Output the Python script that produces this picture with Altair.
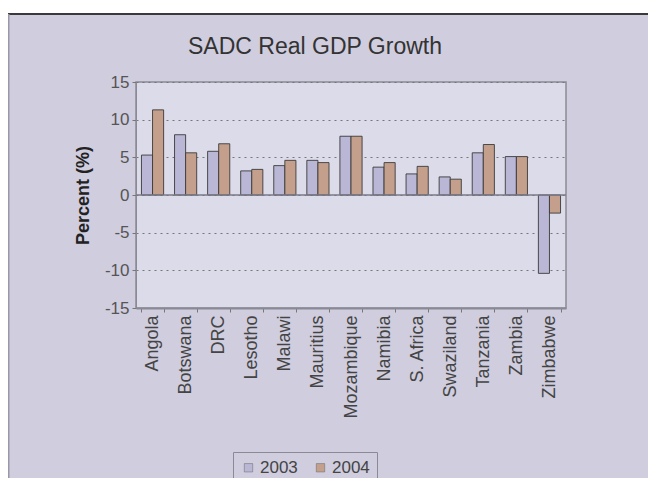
import altair as alt
import pandas as pd

countries = ["Angola", "Botswana", "DRC", "Lesotho", "Malawi", "Mauritius", "Mozambique",
             "Namibia", "S. Africa", "Swaziland", "Tanzania", "Zambia", "Zimbabwe"]
growth_2003 = [5.3, 8.0, 5.8, 3.2, 3.9, 4.6, 7.8, 3.7, 2.8, 2.4, 5.6, 5.1, -10.4]
growth_2004 = [11.3, 5.6, 6.8, 3.4, 4.6, 4.3, 7.8, 4.3, 3.8, 2.1, 6.7, 5.1, -2.4]
years = ["2003", "2004"]
y_ticks = [-15, -10, -5, 0, 5, 10, 15]
chart_title = "SADC Real GDP Growth"

rows = []
for i, c in enumerate(countries):
    rows.append({"country": c, "year": years[0], "value": growth_2003[i]})
    rows.append({"country": c, "year": years[1], "value": growth_2004[i]})
df = pd.DataFrame(rows)

OUTER = "#cfcdde"
PLOT = "#dcdbea"
FONT = "Liberation Sans"

W, H = 430, 226
PL, PT, PR, PB = 128, 74, 82, 170

one = pd.DataFrame({"k": [0]})

# decorative frame pieces
white_strip = alt.Chart(one).mark_rect(color="white").encode(
    x=alt.value(-PL), x2=alt.value(W + PR), y=alt.value(-PT), y2=alt.value(-68))
top_line = alt.Chart(one).mark_rule(color="#3a3a3a", strokeWidth=2).encode(
    x=alt.value(-PL), x2=alt.value(W + PR), y=alt.value(-68))
left_line = alt.Chart(one).mark_rule(color="#9a98a8", strokeWidth=1.5).encode(
    x=alt.value(-PL + 0.75), y=alt.value(-68), y2=alt.value(H + PB))

title = alt.Chart(pd.DataFrame({"t": [chart_title]})).mark_text(
    font=FONT, fontSize=23, color="#333", align="center", baseline="alphabetic").encode(
    text="t:N", x=alt.value(179), y=alt.value(-28))

y_axis = alt.Axis(title="Percent (%)", values=y_ticks, tickCount=7, labelFontSize=17,
                  labelOverlap=False, labelExpr="'' + datum.value",
                  labelColor="#555", labelFont=FONT, tickSize=4, tickColor="#777",
                  domainColor="#8a8a96", labelPadding=3,
                  titleFont=FONT, titleFontSize=18, titleFontWeight="bold",
                  titleColor="#222", titlePadding=12,
                  grid=True, gridColor="#777", gridDash=[2, 4], gridWidth=1)
y_scale = alt.Scale(domain=[-15, 15], nice=False)

bars = alt.Chart(df).mark_bar(stroke="#3a3a3a", strokeWidth=0.9).encode(
    x=alt.X("country:N", sort=countries,
            scale=alt.Scale(paddingInner=0.33, paddingOuter=0.165),
            axis=alt.Axis(title=None, labelAngle=-90, labelFontSize=18, labelColor="#444",
                          labelFont=FONT, labelPadding=3, tickBand="extent", tickSize=4,
                          tickColor="#777", domainColor="#8a8a96", domainWidth=2)),
    xOffset=alt.XOffset("year:N", sort=years),
    y=alt.Y("value:Q", scale=y_scale, axis=y_axis),
    color=alt.Color("year:N", sort=years,
                    scale=alt.Scale(domain=years, range=["#b9b7d5", "#c4a08c"]),
                    legend=alt.Legend(title=None, orient="none", legendX=97, legendY=370,
                                      direction="horizontal", symbolType="square",
                                      symbolSize=70, symbolStrokeColor="#666",
                                      symbolStrokeWidth=0.5,
                                      labelFontSize=17, labelFont=FONT, labelColor="#444",
                                      columnPadding=14, labelOffset=3, padding=7,
                                      strokeColor="#8a8a96")),
)

zero = alt.Chart(one).mark_rule(color="#7a7a88", strokeWidth=1.3).encode(
    y=alt.Y(datum=0, type="quantitative", scale=y_scale, axis=y_axis))

chart = alt.layer(white_strip, top_line, left_line, title, bars, zero).properties(
    width=W, height=H,
    autosize=alt.AutoSizeParams(type="none"),
    padding={"left": PL, "top": PT, "right": PR, "bottom": PB},
    background=OUTER,
).configure_view(fill=PLOT, stroke="#8a8a96", strokeWidth=1.5)

chart.save("out.html", embed_options={"renderer": "svg", "actions": False})
